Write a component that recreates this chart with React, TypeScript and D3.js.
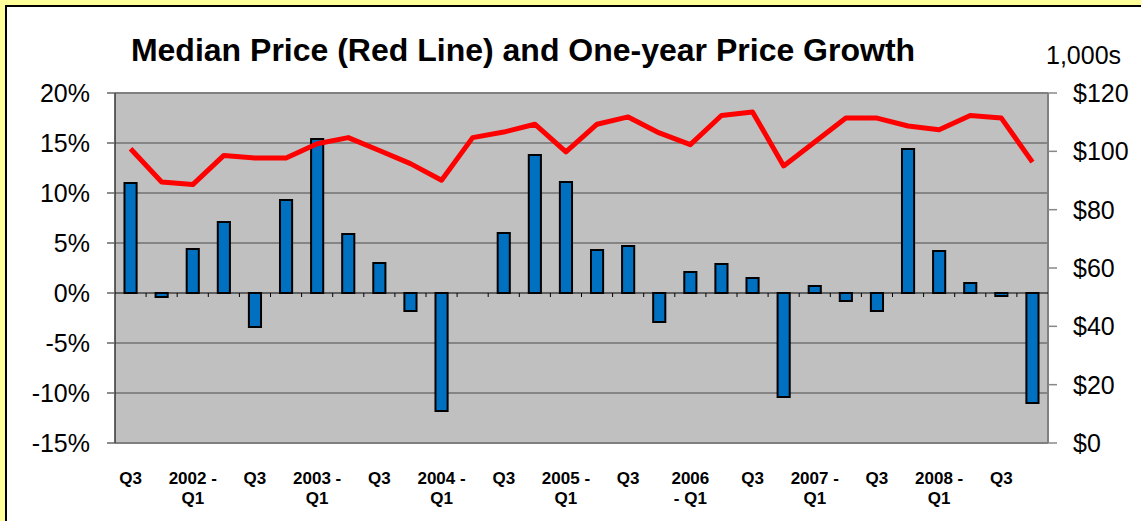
import * as d3 from "d3";
import { useEffect, useRef } from "react";

// quarters from 2001 Q3 to 2008 Q4
const quarters = [
  "2001-Q3", "2001-Q4",
  "2002-Q1", "2002-Q2", "2002-Q3", "2002-Q4",
  "2003-Q1", "2003-Q2", "2003-Q3", "2003-Q4",
  "2004-Q1", "2004-Q2", "2004-Q3", "2004-Q4",
  "2005-Q1", "2005-Q2", "2005-Q3", "2005-Q4",
  "2006-Q1", "2006-Q2", "2006-Q3", "2006-Q4",
  "2007-Q1", "2007-Q2", "2007-Q3", "2007-Q4",
  "2008-Q1", "2008-Q2", "2008-Q3", "2008-Q4",
];

// axis labels (every other quarter), lines split by "\n"
const axisLabels = [
  "Q3", "", "2002 -\nQ1", "", "Q3", "", "2003 -\nQ1", "", "Q3", "",
  "2004 -\nQ1", "", "Q3", "", "2005 -\nQ1", "", "Q3", "", "2006\n- Q1", "",
  "Q3", "", "2007 -\nQ1", "", "Q3", "", "2008 -\nQ1", "", "Q3", "",
];

// one-year price growth, percent
const growth: (number | null)[] = [
  11.0, -0.4, 4.4, 7.1, -3.4, 9.3, 15.4, 5.9, 3.0, -1.8,
  -11.8, null, 6.0, 13.8, 11.1, 4.3, 4.7, -2.9, 2.1, 2.9,
  1.5, -10.4, 0.7, -0.8, -1.8, 14.4, 4.2, 1.0, -0.3, -11.0,
];

// median price, $1,000s
const medianPrice = [
  100.9, 89.5, 88.6, 98.6, 97.7, 97.7, 102.6, 104.7, 100.3, 95.8,
  90.1, 104.7, 106.6, 109.3, 99.8, 109.3, 111.8, 106.3, 102.3, 112.3,
  113.5, 95.0, 103.2, 111.4, 111.4, 108.7, 107.4, 112.3, 111.4, 96.3,
];

const pctTicks = [-15, -10, -5, 0, 5, 10, 15, 20];
const priceTicks = [0, 20, 40, 60, 80, 100, 120];

const FONT = "Arial, 'Liberation Sans', sans-serif";

const Chart: React.FC = () => {
  const ref = useRef<SVGSVGElement | null>(null);

  useEffect(() => {
    const svg = d3.select(ref.current);
    svg.selectAll("*").remove();

    const width = 1141;
    const height = 521;
    svg.attr("width", width).attr("height", height);

    const left = 115;
    const right = 1048;
    const top = 93;
    const bottom = 443;

    // frame
    svg.append("rect").attr("width", width).attr("height", height).attr("fill", "#FFFF99");
    svg
      .append("rect")
      .attr("x", 6)
      .attr("y", 6)
      .attr("width", width)
      .attr("height", height)
      .attr("fill", "#fff")
      .attr("stroke", "#000")
      .attr("stroke-width", 2);

    const x = d3.scaleBand().domain(quarters).range([left, right]).padding(0);
    const yPct = d3.scaleLinear().domain([-15, 20]).range([bottom, top]);
    const yPrice = d3.scaleLinear().domain([0, 120]).range([bottom, top]);

    // plot area
    svg
      .append("rect")
      .attr("x", left)
      .attr("y", top)
      .attr("width", right - left)
      .attr("height", bottom - top)
      .attr("fill", "#C0C0C0");

    // gridlines
    svg
      .append("g")
      .selectAll("line")
      .data(pctTicks.filter((t) => t !== -15 && t !== 20 && t !== 0))
      .enter()
      .append("line")
      .attr("x1", left)
      .attr("x2", right)
      .attr("y1", (d) => yPct(d))
      .attr("y2", (d) => yPct(d))
      .attr("stroke", "#4a4a4a")
      .attr("stroke-width", 1);

    // plot borders
    svg.append("line").attr("x1", left).attr("x2", right).attr("y1", top).attr("y2", top)
      .attr("stroke", "#808080").attr("stroke-width", 2);
    svg.append("line").attr("x1", right).attr("x2", right).attr("y1", top).attr("y2", bottom)
      .attr("stroke", "#808080").attr("stroke-width", 2);
    svg.append("line").attr("x1", left).attr("x2", right).attr("y1", bottom).attr("y2", bottom)
      .attr("stroke", "#808080").attr("stroke-width", 2);

    // left axis
    svg.append("line").attr("x1", left).attr("x2", left).attr("y1", top).attr("y2", bottom)
      .attr("stroke", "#333").attr("stroke-width", 1.5);
    const leftAxis = svg.append("g");
    leftAxis
      .selectAll("line")
      .data(pctTicks)
      .enter()
      .append("line")
      .attr("x1", left - 8)
      .attr("x2", left)
      .attr("y1", (d) => yPct(d))
      .attr("y2", (d) => yPct(d))
      .attr("stroke", "#666")
      .attr("stroke-width", 1.5);
    leftAxis
      .selectAll("text")
      .data(pctTicks)
      .enter()
      .append("text")
      .attr("x", 90)
      .attr("y", (d) => yPct(d))
      .attr("dy", "0.36em")
      .style("text-anchor", "end")
      .style("font-family", FONT)
      .style("font-size", "25px")
      .style("fill", "#000")
      .text((d) => `${d}%`);

    // right axis
    const rightAxis = svg.append("g");
    rightAxis
      .selectAll("line")
      .data(priceTicks)
      .enter()
      .append("line")
      .attr("x1", right)
      .attr("x2", right + 9)
      .attr("y1", (d) => yPrice(d))
      .attr("y2", (d) => yPrice(d))
      .attr("stroke", "#888")
      .attr("stroke-width", 1.5);
    rightAxis
      .selectAll("text")
      .data(priceTicks)
      .enter()
      .append("text")
      .attr("x", 1073)
      .attr("y", (d) => yPrice(d))
      .attr("dy", "0.36em")
      .style("font-family", FONT)
      .style("font-size", "25px")
      .style("fill", "#000")
      .text((d) => `$${d}`);

    svg
      .append("text")
      .attr("x", 1046)
      .attr("y", 64)
      .style("font-family", FONT)
      .style("font-size", "25px")
      .style("fill", "#000")
      .text("1,000s");

    // bars
    const barW = x.bandwidth() * 0.39;
    svg
      .append("g")
      .selectAll("rect")
      .data(quarters.map((q, i) => ({ q, v: growth[i] })).filter((d) => d.v !== null))
      .enter()
      .append("rect")
      .attr("x", (d) => (x(d.q) ?? 0) + x.bandwidth() / 2 - barW / 2)
      .attr("y", (d) => yPct(Math.max(0, d.v as number)))
      .attr("width", barW)
      .attr("height", (d) => Math.abs(yPct(d.v as number) - yPct(0)))
      .attr("fill", "#0070C0")
      .attr("stroke", "#000")
      .attr("stroke-width", 2);

    // zero line with category ticks
    svg.append("line").attr("x1", left).attr("x2", right).attr("y1", yPct(0)).attr("y2", yPct(0))
      .attr("stroke", "#000").attr("stroke-width", 1.2);
    svg
      .append("g")
      .selectAll("line")
      .data(quarters.slice(1))
      .enter()
      .append("line")
      .attr("x1", (d) => x(d) ?? 0)
      .attr("x2", (d) => x(d) ?? 0)
      .attr("y1", yPct(0))
      .attr("y2", yPct(0) + 4)
      .attr("stroke", "#000")
      .attr("stroke-width", 1);

    // median price line
    const line = d3
      .line<number>()
      .x((_, i) => (x(quarters[i]) ?? 0) + x.bandwidth() / 2)
      .y((d) => yPrice(d));
    svg
      .append("path")
      .datum(medianPrice)
      .attr("d", line)
      .attr("fill", "none")
      .attr("stroke", "#FF0000")
      .attr("stroke-width", 5)
      .attr("stroke-linejoin", "round");

    // category labels
    const labels = svg
      .append("g")
      .selectAll("text")
      .data(quarters.map((q, i) => ({ q, label: axisLabels[i] })).filter((d) => d.label))
      .enter()
      .append("text")
      .attr("x", (d) => (x(d.q) ?? 0) + x.bandwidth() / 2)
      .attr("y", 484)
      .style("text-anchor", "middle")
      .style("font-family", FONT)
      .style("font-size", "17px")
      .style("font-weight", "bold")
      .style("fill", "#000");
    labels
      .selectAll("tspan")
      .data((d) => d.label.split("\n").map((t) => ({ t, cx: (x(d.q) ?? 0) + x.bandwidth() / 2 })))
      .enter()
      .append("tspan")
      .attr("x", (d) => d.cx)
      .attr("dy", (_, i) => (i === 0 ? 0 : 20))
      .text((d) => d.t);

    // title
    svg
      .append("text")
      .attr("x", 523)
      .attr("y", 61)
      .style("text-anchor", "middle")
      .style("font-family", FONT)
      .style("font-size", "32px")
      .style("font-weight", "bold")
      .style("fill", "#000")
      .text("Median Price (Red Line) and One-year Price Growth");
  }, []);

  return <svg ref={ref} style={{ display: "block" }}></svg>;
};

export default function App() {
  return (
    <div style={{ position: "fixed", left: 0, top: 0 }}>
      <Chart />
    </div>
  );
}
